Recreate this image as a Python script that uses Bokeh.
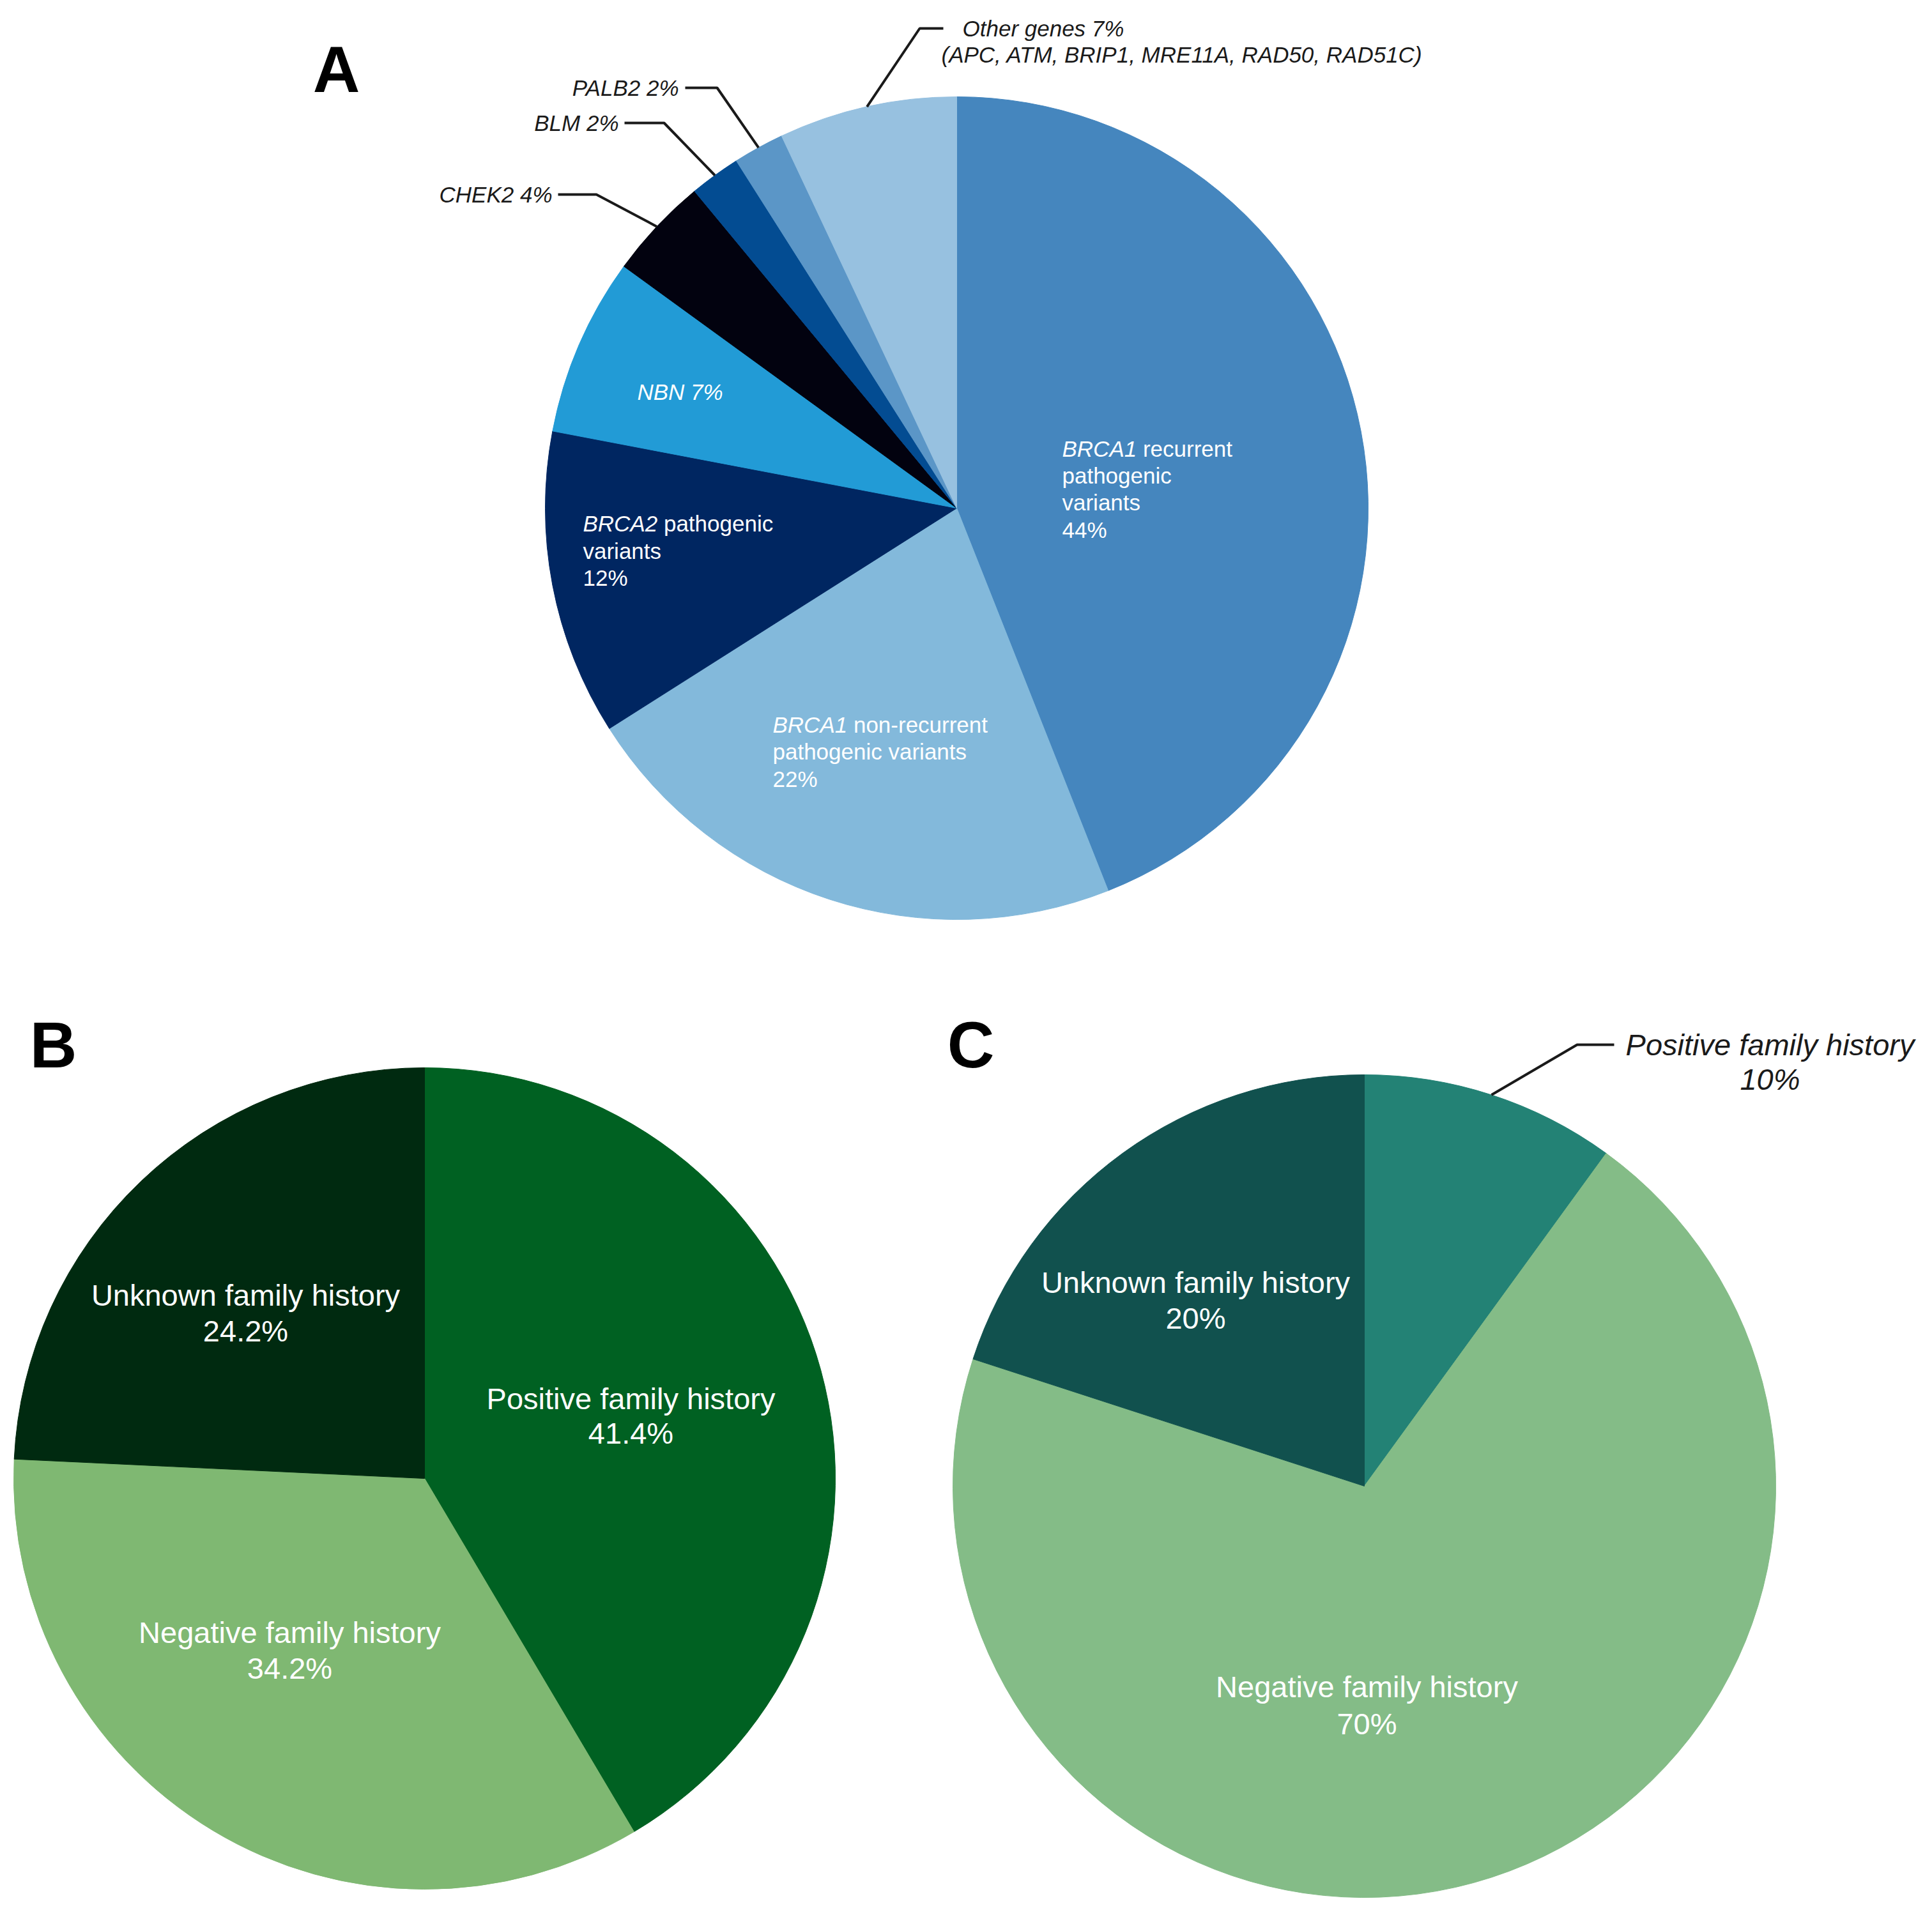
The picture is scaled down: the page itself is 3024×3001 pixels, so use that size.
import numpy as np
from bokeh.plotting import figure
from bokeh.models import ColumnDataSource, Range1d
from bokeh.core.properties import value
from bokeh.embed import file_html
from bokeh.resources import INLINE

# ---------------- data ----------------
a_labels = ["BRCA1 recurrent pathogenic variants", "BRCA1 non-recurrent pathogenic variants",
            "BRCA2 pathogenic variants", "NBN", "CHEK2", "BLM", "PALB2", "Other genes"]
a_values = [44, 22, 12, 7, 4, 2, 2, 7]
a_colors = ["#4586BE", "#83B9DB", "#002661", "#229BD6", "#02020F", "#034C92", "#5B96C7", "#97C1E0"]
other_genes = ["APC", "ATM", "BRIP1", "MRE11A", "RAD50", "RAD51C"]

b_labels = ["Positive family history", "Negative family history", "Unknown family history"]
b_values = [41.4, 34.2, 24.2]
b_colors = ["#006122", "#7FB872", "#002A10"]

c_labels = ["Positive family history", "Negative family history", "Unknown family history"]
c_values = [10, 70, 20]
c_colors = ["#238275", "#84BC87", "#11514E"]

panel_letters = ["A", "B", "C"]

# ---------------- layout ----------------
W, H = 3000, 2980
OFF = 8
FONT = "Liberation Sans"

p = figure(width=W, height=H, output_backend="svg", toolbar_location=None,
           x_range=Range1d(OFF, OFF + W), y_range=Range1d(-(OFF + H), -OFF),
           x_axis_location=None, y_axis_location=None, min_border=0)
p.grid.visible = False
p.outline_line_color = None
p.background_fill_color = "white"

# Arial-compatible advance widths (per 1000 em) for offset computation
_w = {"B": 667, "R": 722, "C": 722, "A": 667, "1": 556, "2": 556, " ": 278}


def tw(s, size):
    return sum(_w.get(ch, 556) for ch in s) * size / 1000.0


def pie(cx, cy, r, values, colors):
    v = np.array(values, dtype=float)
    frac = v / v.sum()
    cum = np.concatenate([[0.0], np.cumsum(frac)])
    start = np.pi / 2 - 2 * np.pi * cum[:-1]
    end = np.pi / 2 - 2 * np.pi * cum[1:]
    src = ColumnDataSource(dict(start=start, end=end, color=colors))
    p.wedge(x=cx, y=-cy, radius=r, start_angle="start", end_angle="end",
            direction="clock", fill_color="color", line_color="color",
            line_width=1, source=src)
    mid = (start + end) / 2
    return [(cx + r * np.cos(m), cy - r * np.sin(m)) for m in mid]


def txt(x, y, s, size, color="white", style="normal", align="left", xoff=0):
    p.text(x=[x], y=[-y], text=[s], text_font=value(FONT),
           text_font_size=f"{size}px", text_font_style=style, text_color=color,
           text_align=align, text_baseline="middle", x_offset=xoff)


def leader(points):
    p.line(x=[q[0] for q in points], y=[-q[1] for q in points],
           line_color="#1a1a1a", line_width=4)


# ---------------- Panel A ----------------
FA = 35
edgeA = pie(1505, 803, 644, a_values, a_colors)

# BRCA1 recurrent
x0, y0 = 1670, 710
txt(x0, y0, "BRCA1", FA, style="italic")
txt(x0, y0, "recurrent", FA, xoff=tw("BRCA1 ", FA))
txt(x0, y0 + 42, "pathogenic", FA)
txt(x0, y0 + 84, "variants", FA)
txt(x0, y0 + 127, f"{a_values[0]}%", FA)

# BRCA1 non-recurrent
x0, y0 = 1217, 1142
txt(x0, y0, "BRCA1", FA, style="italic")
txt(x0, y0, "non-recurrent", FA, xoff=tw("BRCA1 ", FA))
txt(x0, y0 + 42, "pathogenic variants", FA)
txt(x0, y0 + 85, f"{a_values[1]}%", FA)

# BRCA2
x0, y0 = 920, 827
txt(x0, y0, "BRCA2", FA, style="italic")
txt(x0, y0, "pathogenic", FA, xoff=tw("BRCA2 ", FA))
txt(x0, y0 + 43, "variants", FA)
txt(x0, y0 + 85, f"{a_values[2]}%", FA)

# NBN
txt(1005, 621, f"{a_labels[3]} {a_values[3]}%", FA, style="italic")

# Outside labels with leaders
txt(872, 312, f"{a_labels[4]} {a_values[4]}%", FA, color="#1a1a1a", style="italic", align="right")
leader([(881, 312), (941, 312), edgeA[4]])
txt(976, 200, f"{a_labels[5]} {a_values[5]}%", FA, color="#1a1a1a", style="italic", align="right")
leader([(985, 200), (1047, 200), edgeA[5]])
txt(1070, 145, f"{a_labels[6]} {a_values[6]}%", FA, color="#1a1a1a", style="italic", align="right")
leader([(1080, 145), (1130, 145), edgeA[6]])
txt(1514, 52, f"{a_labels[7]} {a_values[7]}%", FA, color="#1a1a1a", style="italic")
txt(1481, 93, "(" + ", ".join(other_genes) + ")", FA, color="#1a1a1a", style="italic")
leader([(1484, 52), (1447, 52), edgeA[7]])

# ---------------- Panel B ----------------
FB = 47
pie(672, 2322, 643, b_values, b_colors)
txt(995, 2197, b_labels[0], FB, align="center")
txt(995, 2251, f"{b_values[0]}%", FB, align="center")
txt(461, 2563, b_labels[1], FB, align="center")
txt(461, 2619, f"{b_values[1]}%", FB, align="center")
txt(392, 2035, b_labels[2], FB, align="center")
txt(392, 2091, f"{b_values[2]}%", FB, align="center")

# ---------------- Panel C ----------------
edgeC = pie(2143, 2334, 644, c_values, c_colors)
txt(2778, 1643, c_labels[0], FB, color="#1a1a1a", style="italic", align="center")
txt(2778, 1697, f"{c_values[0]}%", FB, color="#1a1a1a", style="italic", align="center")
leader([(2534, 1643), (2476, 1643), edgeC[0]])
txt(2147, 2648, c_labels[1], FB, align="center")
txt(2147, 2706, f"{c_values[1]}%", FB, align="center")
txt(1879, 2015, c_labels[2], FB, align="center")
txt(1879, 2071, f"{c_values[2]}%", FB, align="center")

# ---------------- Panel letters ----------------
FL = 102
txt(534, 116, panel_letters[0], FL, color="black", style="bold", align="center")
txt(91, 1643, panel_letters[1], FL, color="black", style="bold", align="center")
txt(1527, 1643, panel_letters[2], FL, color="black", style="bold", align="center")

open("out.html", "w").write(file_html(p, INLINE))
